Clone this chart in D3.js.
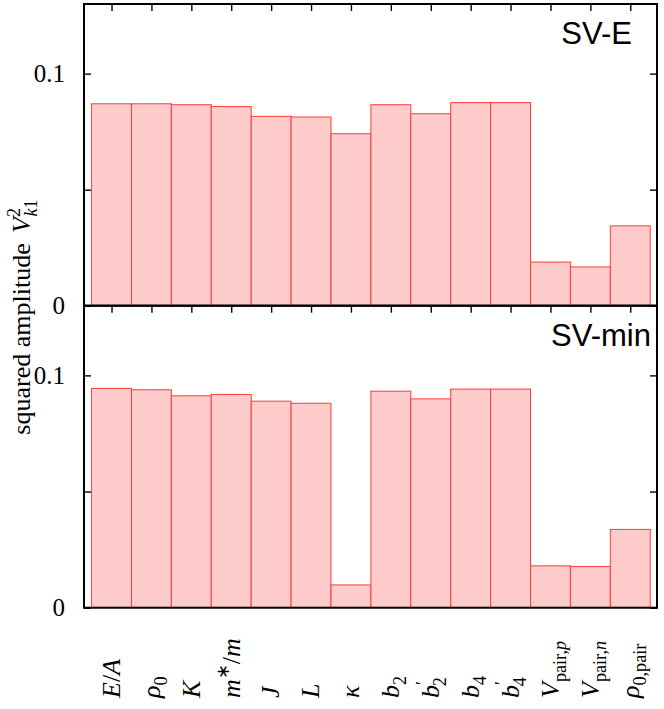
<!DOCTYPE html>
<html>
<head>
<meta charset="utf-8">
<script src="https://cdn.jsdelivr.net/npm/d3@7"></script>
<style>
  body { margin: 0; background: #fff; }
  svg { display: block; }
</style>
</head>
<body>
<svg id="chart" width="664" height="709"></svg>
<script>
// ---------------- data ----------------
const categories = ["E/A", "ρ0", "K", "m*/m", "J", "L", "κ", "b2", "b′2", "b4", "b′4", "Vpair,p", "Vpair,n", "ρ0,pair"];
// rich-text rendering of each category label (i = italic, r = roman, sub/sup = scripts, subStack = subscript stacked under previous superscript)
const categoryLabelParts = [
  [["E", "i"], ["/", "r"], ["A", "i"]],
  [["ρ", "i"], ["0", "sub"]],
  [["K", "i"]],
  [["m", "i"], ["∗", "sup"], ["/", "r"], ["m", "i"]],
  [["J", "i"]],
  [["L", "i"]],
  [["κ", "i"]],
  [["b", "i"], ["2", "sub"]],
  [["b", "i"], ["′", "sup"], ["2", "subStack"]],
  [["b", "i"], ["4", "sub"]],
  [["b", "i"], ["′", "sup"], ["4", "subStack"]],
  [["V", "i"], ["pair,", "sub"], ["p", "subi"]],
  [["V", "i"], ["pair,", "sub"], ["n", "subi"]],
  [["ρ", "i"], ["0,pair", "sub"]]
];
const panelNames = ["SV-E", "SV-min"];
const sveValues   = [0.0870, 0.0870, 0.0866, 0.0858, 0.0816, 0.0813, 0.0741, 0.0866, 0.0827, 0.0875, 0.0875, 0.0188, 0.0167, 0.0344];
const svMinValues = [0.0944, 0.0938, 0.0912, 0.0918, 0.0889, 0.0880, 0.0098, 0.0932, 0.0899, 0.0941, 0.0941, 0.0180, 0.0177, 0.0337];
const yTickValues = [0, 0.05, 0.1];
const yTickLabels = ["0", "", "0.1"];
const yLabelParts = [["squared amplitude", "r"], ["V", "iGap"], ["2", "sup"], ["k", "subStackI"], ["1", "sub"]];
const yMax = 0.13;

// ---------------- layout ----------------
const W = 664, H = 709;
const left = 84, right = 657;
const panelTops = [4, 305.7];
const panelBottoms = [305.7, 607.7];
const panelValues = [sveValues, svMinValues];
const labelEndX = [632, 651];
const SERIF = '"Liberation Serif", Tinos, "Times New Roman"';
const SANS = '"Liberation Sans", Arimo, Arial';
const barFill = "#ffcccc";
const barStroke = "#ff3b3b";

const svg = d3.select("#chart");
svg.append("rect").attr("width", W).attr("height", H).attr("fill", "#fff");

const x = d3.scaleLinear().domain([-0.69, 13.67]).range([left, right]);

function richText(sel, parts, fs) {
  let cur = 0;
  const levels = { sub: 0.28, subi: 0.28, subStack: 0.28, subStackI: 0.28, sup: -0.4 };
  parts.forEach(([t, s]) => {
    const target = (levels[s] !== undefined ? levels[s] : 0) * fs;
    const ts = sel.append("tspan").text(t).style("font-family", SERIF);
    const dy = target - cur;
    if (dy !== 0) ts.attr("dy", dy);
    cur = target;
    const small = (s in levels);
    ts.style("font-size", (small ? fs * 0.7 : fs) + "px");
    const italic = (s === "i" || s === "iGap" || s === "subi" || s === "subStackI");
    ts.style("font-style", italic ? "italic" : "normal");
    if (s === "subStack") ts.attr("dx", -0.2 * fs);
    if (s === "subStackI") ts.attr("dx", -0.33 * fs);
    if (s === "iGap") ts.attr("dx", 0.4 * fs);
  });
}

panelValues.forEach((vals, p) => {
  const y = d3.scaleLinear().domain([0, yMax]).range([panelBottoms[p], panelTops[p]]);
  const g = svg.append("g");

  // bars
  g.selectAll("rect.bar").data(vals).enter().append("rect")
    .attr("class", "bar")
    .attr("x", (d, i) => x(i - 0.5))
    .attr("width", (d, i) => x(i + 0.5) - x(i - 0.5))
    .attr("y", d => y(d))
    .attr("height", d => y(0) - y(d))
    .attr("fill", barFill)
    .attr("stroke", barStroke)
    .attr("stroke-width", 1);

  // left axis (ticks inward)
  const ax = svg.append("g").attr("transform", `translate(${left},0)`)
    .call(d3.axisLeft(y).tickValues(yTickValues)
      .tickFormat((d, i) => yTickLabels[i])
      .tickSizeInner(-7).tickSizeOuter(0).tickPadding(19));
  ax.attr("font-family", null).attr("font-size", null);
  ax.select(".domain").remove();
  ax.selectAll("line").attr("stroke", "#000").attr("stroke-width", 1.4);
  ax.selectAll("text").style("font-family", SERIF).style("font-size", "25px")
    .attr("fill", "#000").attr("dy", "0.33em");

  // right axis
  const axR = svg.append("g").attr("transform", `translate(${right},0)`)
    .call(d3.axisRight(y).tickValues(yTickValues).tickFormat("")
      .tickSizeInner(-7).tickSizeOuter(0));
  axR.select(".domain").remove();
  axR.selectAll("line").attr("stroke", "#000").attr("stroke-width", 1.4);

  // top axis ticks at bar centres
  const axT = svg.append("g").attr("transform", `translate(0,${panelTops[p]})`)
    .call(d3.axisTop(x).tickValues(d3.range(categories.length)).tickFormat("")
      .tickSizeInner(-7).tickSizeOuter(0));
  axT.select(".domain").remove();
  axT.selectAll("line").attr("stroke", "#000").attr("stroke-width", 1.4);

  // frame
  svg.append("rect")
    .attr("x", left).attr("y", panelTops[p])
    .attr("width", right - left).attr("height", panelBottoms[p] - panelTops[p])
    .attr("fill", "none").attr("stroke", "#000").attr("stroke-width", 2);

  // panel name
  svg.append("text")
    .attr("x", labelEndX[p]).attr("y", panelTops[p] + 40)
    .attr("text-anchor", "end")
    .style("font-family", SANS)
    .style("font-size", "31px").attr("fill", "#000")
    .text(panelNames[p]);
});

// x category labels (rotated)
const xfs = 26;
categories.forEach((c, i) => {
  const t = svg.append("text")
    .style("font-family", SERIF)
    .attr("transform", `translate(${x(i) + 0.32 * xfs},698) rotate(-90)`)
    .attr("fill", "#000")
    .attr("text-anchor", "start");
  richText(t, categoryLabelParts[i], xfs);
});

// y label
const yfs = 26;
const ylab = svg.append("text")
  .style("font-family", SERIF)
  .attr("transform", `translate(30,317) rotate(-90)`)
  .attr("fill", "#000")
  .attr("text-anchor", "middle");
richText(ylab, yLabelParts, yfs);
</script>
</body>
</html>
